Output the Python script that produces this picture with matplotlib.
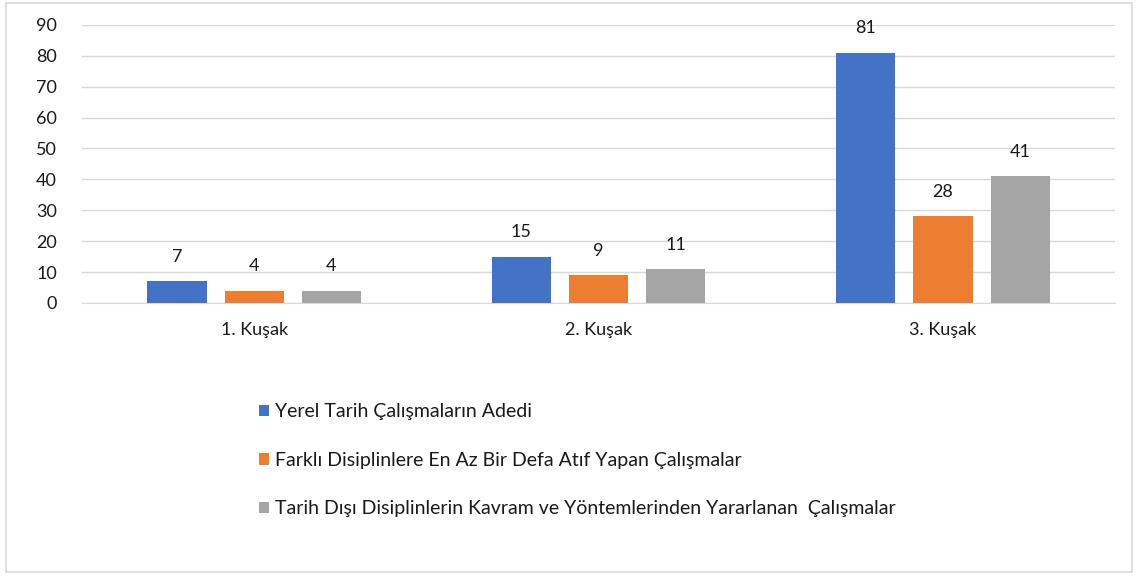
import numpy as np
import matplotlib.pyplot as plt
from matplotlib.patches import Rectangle

plt.rcParams["font.family"] = ["Lato", "DejaVu Sans"]

categories = ["1. Kuşak", "2. Kuşak", "3. Kuşak"]
series_names = ["Yerel Tarih Çalışmaların Adedi",
                "Farklı Disiplinlere En Az Bir Defa Atıf Yapan Çalışmalar",
                "Tarih Dışı Disiplinlerin Kavram ve Yöntemlerinden Yararlanan  Çalışmalar"]
yerel = [7, 15, 81]
farkli = [4, 9, 28]
tarih_disi = [4, 11, 41]
colors = ["#4472C4", "#ED7D31", "#A5A5A5"]

TXT = "#1a1a1a"
fig = plt.figure(figsize=(11.38, 5.76), dpi=100)
ax = fig.add_axes([0.072, 0.474, 0.908, 0.483])
fig.add_artist(Rectangle((0.005, 0.007), 0.99, 0.987, transform=fig.transFigure,
                         fill=False, edgecolor="#d9d9d9", lw=1.2))

x = np.arange(len(categories))
w = 0.172
step = 0.224
handles = []
for i, (vals, c) in enumerate(zip([yerel, farkli, tarih_disi], colors)):
    bars = ax.bar(x + (i - 1) * step, vals, w, color=c, zorder=3, label=series_names[i])
    handles.append(bars)
    for b, v in zip(bars, vals):
        ax.annotate(f"{v}", (b.get_x() + b.get_width() / 2, v), xytext=(0, 14),
                    textcoords="offset points", ha="center", va="baseline",
                    fontsize=13, color=TXT)

ax.set_xlim(-0.5, 2.5)
ax.set_ylim(0, 90)
ax.set_yticks(range(0, 91, 10))
ax.grid(axis="y", color="#d9d9d9", lw=1, zorder=0)
for s in ("top", "right", "left"):
    ax.spines[s].set_visible(False)
ax.spines["bottom"].set_color("#d9d9d9")
ax.set_xticks(x)
ax.set_xticklabels(categories)
ax.tick_params(axis="both", length=0, labelsize=13, colors=TXT)
ax.tick_params(axis="x", pad=14)
ax.tick_params(axis="y", pad=18)

fig.legend(handles=handles, loc="upper left", bbox_to_anchor=(0.212, 0.33),
           frameon=False, fontsize=14, labelspacing=1.62, handlelength=0.55,
           handleheight=0.55, handletextpad=0.3, labelcolor=TXT)

fig.savefig("out.png")
